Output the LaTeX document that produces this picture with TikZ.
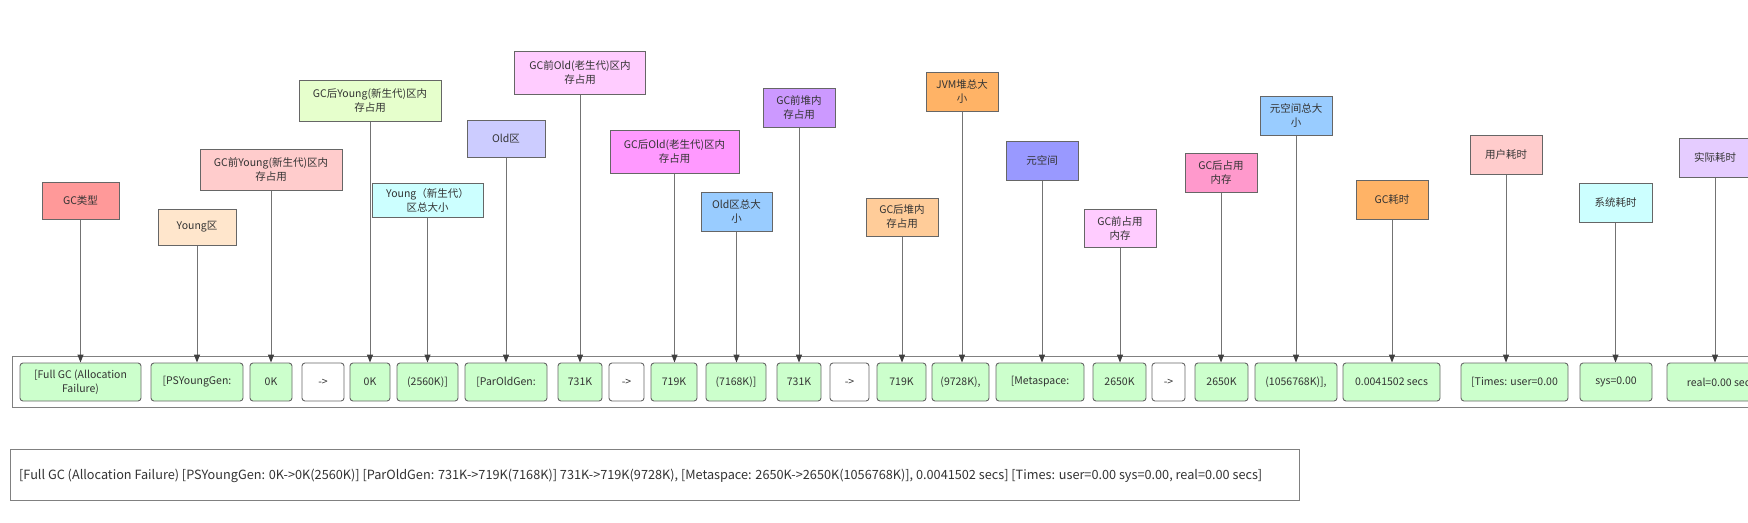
\documentclass[tikz,border=0pt]{standalone}
\usepackage{fontspec}
\setmainfont{Noto Sans CJK SC}
\usetikzlibrary{arrows.meta}
\definecolor{txt}{HTML}{333333}
\definecolor{bord}{HTML}{666666}
\definecolor{lgreen}{HTML}{CCFFCC}
\tikzset{
  lab/.style={draw=bord, line width=1pt, inner sep=1pt, align=center, text=txt, font=\fontsize{10.5}{14}\selectfont},
  cell/.style={draw=bord, line width=0.9pt, rounded corners=3pt, fill=lgreen, minimum height=38pt, inner sep=1pt, align=center, text=txt, font=\fontsize{10.5}{14}\selectfont},
  arr/.style={cell, fill=white},
  conn/.style={draw=black!55, line width=1pt, -{Triangle[length=8pt,width=6pt,color=black!75]}},
  frame/.style={draw=black!50, line width=1pt}
}
\begin{document}
\begin{tikzpicture}[x=1pt,y=-1pt]
\path[use as bounding box] (0,0) rectangle (1748,522);
\clip (0,0) rectangle (1748,522);
\fill[white] (0,0) rectangle (1748,522);

% container
\draw[frame] (12,356) rectangle (1790,407);

% bottom cells
\node[cell, minimum width=121pt] (b1) at (80.5,382) {[Full GC (Allocation\\Failure)};
\node[cell, minimum width=92pt] (b2) at (197,382) {[PSYoungGen:};
\node[cell, minimum width=42pt] (b3) at (271,382) {0K};
\node[arr, minimum width=42pt] (a1) at (323,382) {->};
\node[cell, minimum width=40pt] (b4) at (370,382) {0K};
\node[cell, minimum width=61pt] (b5) at (427.5,382) {(2560K)]};
\node[cell, minimum width=82pt] (b6) at (506,382) {[ParOldGen:};
\node[cell, minimum width=44pt] (b7) at (580,382) {731K};
\node[arr, minimum width=35pt] (a2) at (626.5,382) {->};
\node[cell, minimum width=46pt] (b8) at (674,382) {719K};
\node[cell, minimum width=60pt] (b9) at (736,382) {(7168K)]};
\node[cell, minimum width=44pt] (b10) at (799,382) {731K};
\node[arr, minimum width=39pt] (a3) at (849.5,382) {->};
\node[cell, minimum width=49pt] (b11) at (901.5,382) {719K};
\node[cell, minimum width=57pt] (b12) at (960.5,382) {(9728K),};
\node[cell, minimum width=88pt] (b13) at (1040,382) {[Metaspace:};
\node[cell, minimum width=53pt] (b14) at (1119.5,382) {2650K};
\node[arr, minimum width=33pt] (a4) at (1168.5,382) {->};
\node[cell, minimum width=53pt] (b15) at (1221.5,382) {2650K};
\node[cell, minimum width=82pt] (b16) at (1296,382) {(1056768K)],};
\node[cell, minimum width=97pt] (b17) at (1391.5,382) {0.0041502 secs};
\node[cell, minimum width=107pt] (b18) at (1514.5,382) {[Times: user=0.00};
\node[cell, minimum width=72pt] (b19) at (1616,382) {sys=0.00};
\node[cell, minimum width=108pt] (b20) at (1721,382) {real=0.00 secs};

% labels
\node[lab, fill={rgb,255:red,255;green,153;blue,153}, minimum width=77pt, minimum height=37pt] (l1) at (80.5,200.5) {GC类型};
\node[lab, fill={rgb,255:red,255;green,230;blue,204}, minimum width=78pt, minimum height=36pt] (l2) at (197,227) {Young区};
\node[lab, fill={rgb,255:red,255;green,204;blue,204}, minimum width=142pt, minimum height=41pt] (l3) at (271,169.5) {GC前Young(新生代)区内\\存占用};
\node[lab, fill={rgb,255:red,230;green,255;blue,204}, minimum width=142pt, minimum height=41pt] (l4) at (370,100.5) {GC后Young(新生代)区内\\存占用};
\node[lab, fill={rgb,255:red,204;green,255;blue,255}, minimum width=111pt, minimum height=34pt] (l5) at (427.5,200) {Young（新生代）\\区总大小};
\node[lab, fill={rgb,255:red,204;green,204;blue,255}, minimum width=78pt, minimum height=37pt] (l6) at (506,138.5) {Old区};
\node[lab, fill={rgb,255:red,255;green,204;blue,255}, minimum width=131pt, minimum height=43pt] (l7) at (580,72.5) {GC前Old(老生代)区内\\存占用};
\node[lab, fill={rgb,255:red,255;green,153;blue,255}, minimum width=129pt, minimum height=43pt] (l8) at (674.5,151.5) {GC后Old(老生代)区内\\存占用};
\node[lab, fill={rgb,255:red,153;green,204;blue,255}, minimum width=71pt, minimum height=39pt] (l9) at (736.5,211.5) {Old区总大\\小};
\node[lab, fill={rgb,255:red,204;green,153;blue,255}, minimum width=72pt, minimum height=39pt] (l10) at (799,107.5) {GC前堆内\\存占用};
\node[lab, fill={rgb,255:red,255;green,204;blue,153}, minimum width=72pt, minimum height=38pt] (l11) at (902,217) {GC后堆内\\存占用};
\node[lab, fill={rgb,255:red,255;green,179;blue,102}, minimum width=72pt, minimum height=39pt] (l12) at (962,91.5) {JVM堆总大\\小};
\node[lab, fill={rgb,255:red,153;green,153;blue,255}, minimum width=72pt, minimum height=39pt] (l13) at (1042,160.5) {元空间};
\node[lab, fill={rgb,255:red,255;green,204;blue,255}, minimum width=72pt, minimum height=38pt] (l14) at (1120,228) {GC前占用\\内存};
\node[lab, fill={rgb,255:red,255;green,153;blue,204}, minimum width=72pt, minimum height=39pt] (l15) at (1221,172.5) {GC后占用\\内存};
\node[lab, fill={rgb,255:red,153;green,204;blue,255}, minimum width=72pt, minimum height=39pt] (l16) at (1296,115.5) {元空间总大\\小};
\node[lab, fill={rgb,255:red,255;green,179;blue,102}, minimum width=72pt, minimum height=39pt] (l17) at (1392,199.5) {GC耗时};
\node[lab, fill={rgb,255:red,255;green,204;blue,204}, minimum width=72pt, minimum height=39pt] (l18) at (1506,154.5) {用户耗时};
\node[lab, fill={rgb,255:red,204;green,255;blue,255}, minimum width=73pt, minimum height=39pt] (l19) at (1615.5,202.5) {系统耗时};
\node[lab, fill={rgb,255:red,229;green,204;blue,255}, minimum width=72pt, minimum height=39pt] (l20) at (1715,157.5) {实际耗时};

% connectors
\foreach \l/\b in {l1/b1,l2/b2,l3/b3,l4/b4,l5/b5,l6/b6,l7/b7,l8/b8,l9/b9,l10/b10,l11/b11,l12/b12,l13/b13,l14/b14,l15/b15,l16/b16,l17/b17,l18/b18,l19/b19,l20/b20}
  \draw[conn] (\l.south) -- (\l.south |- \b.north);

% full line box
\node[draw=black!50, line width=1pt, minimum width=1289pt, minimum height=51pt, inner sep=0pt] (full) at (654.5,474.5) {};
\node[anchor=west, inner sep=0pt, text=txt, font=\fontsize{12.7}{15}\selectfont] (fulltxt) at (19,476) {[Full GC (Allocation Failure) [PSYoungGen: 0K->0K(2560K)] [ParOldGen: 731K->719K(7168K)] 731K->719K(9728K), [Metaspace: 2650K->2650K(1056768K)], 0.0041502 secs] [Times: user=0.00 sys=0.00, real=0.00 secs]};
\end{tikzpicture}
\end{document}
